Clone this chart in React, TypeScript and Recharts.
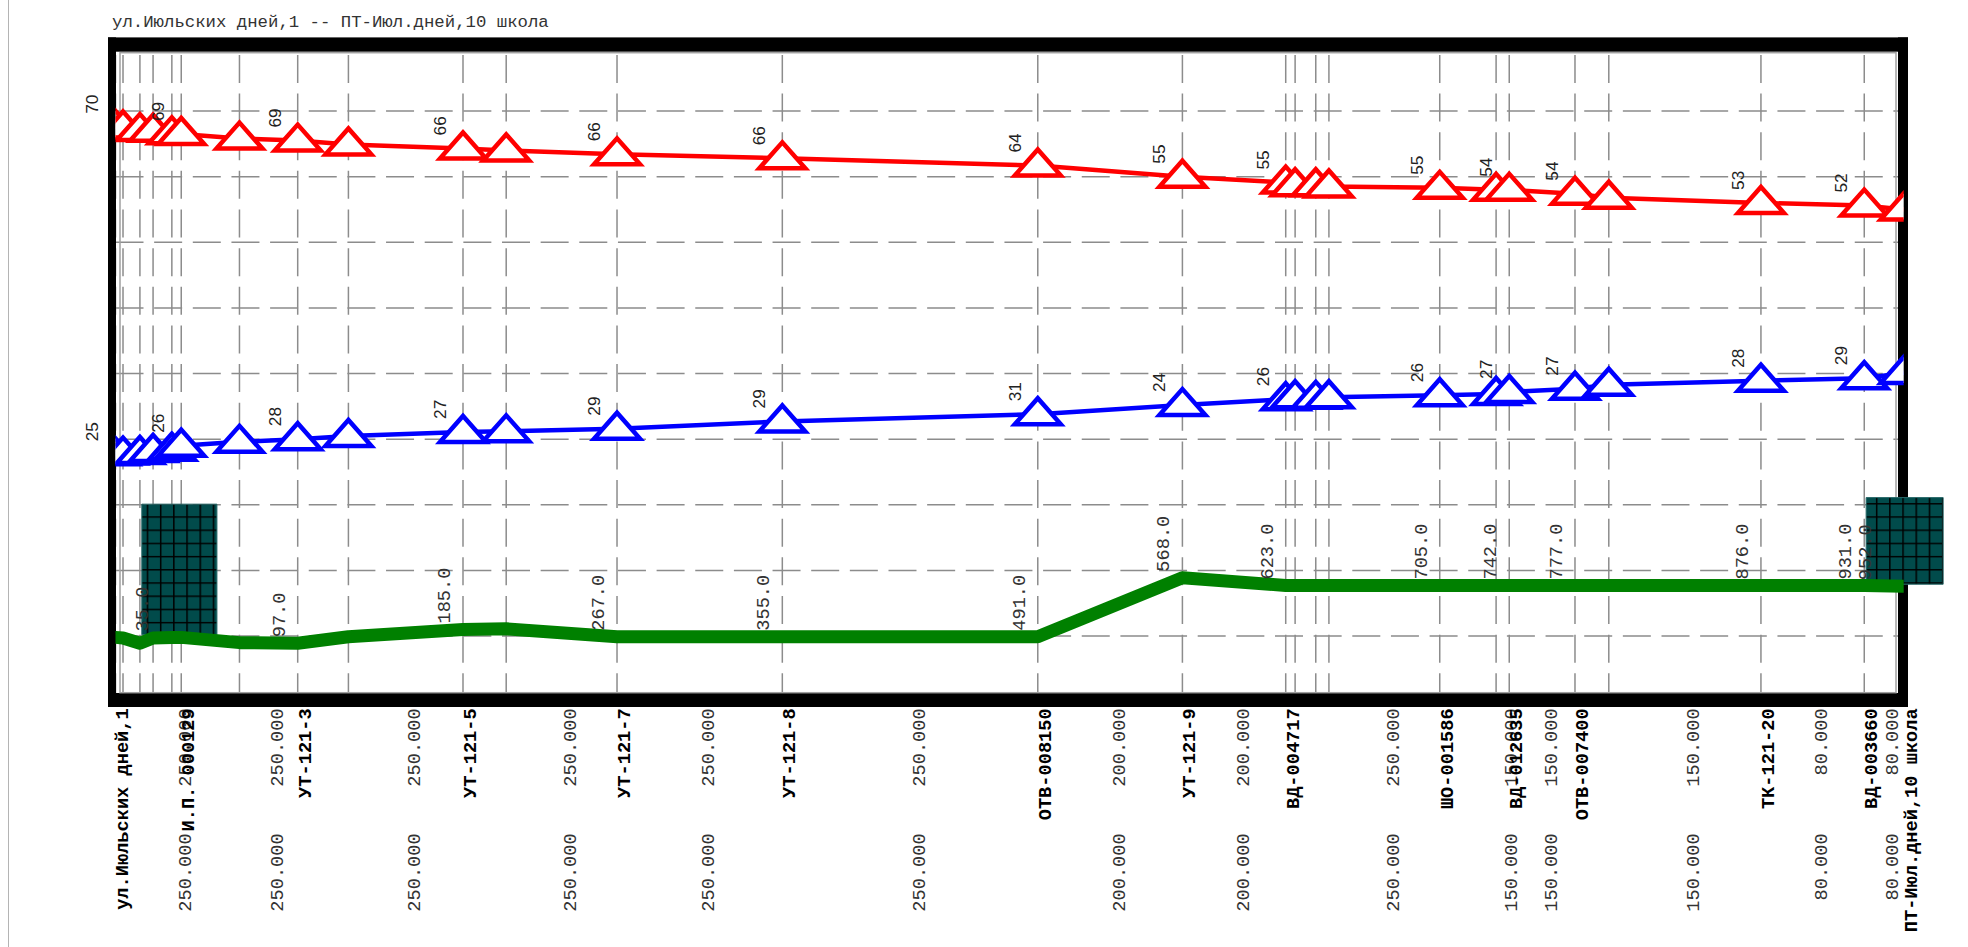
import React from 'react';
import {
  ComposedChart,
  Line,
  XAxis,
  YAxis,
  CartesianGrid,
  ReferenceArea,
  LabelList,
} from 'recharts';

// distance along the route, m (every node, named or not)
const distances = [0, 4, 13, 20, 30, 35, 66, 97, 124, 185, 208, 267, 355, 491, 568, 623, 628, 639, 646, 705, 735, 742, 777, 795, 876, 931, 952];
// head lines (supply, return, ground)
const supplyHead = [87.6, 87.5, 87.1, 87.0, 86.6, 86.5, 85.8, 85.5, 84.9, 84.3, 84.0, 83.4, 82.8, 81.7, 80.0, 79.1, 78.7, 78.7, 78.5, 78.3, 78.0, 78.0, 77.4, 76.8, 76.0, 75.6, 75.0];
const returnHead = [37.7, 37.8, 37.9, 38.2, 38.4, 39.0, 39.6, 40.0, 40.5, 41.1, 41.2, 41.6, 42.7, 43.8, 45.2, 46.1, 46.4, 46.3, 46.4, 46.7, 46.9, 47.2, 47.7, 48.3, 48.9, 49.3, 50.1];
const groundLevel = [9.8, 9.7, 8.9, 9.7, 9.8, 9.8, 9.0, 8.9, 9.9, 11.0, 11.1, 9.9, 9.9, 9.9, 18.9, 17.7, 17.7, 17.7, 17.7, 17.7, 17.7, 17.7, 17.7, 17.7, 17.7, 17.7, 17.6];

// named stations
const stationDistances = [0, 35, 97, 185, 267, 355, 491, 568, 623, 705, 742, 777, 876, 931, 952];
const stationNames = [
  'ул.Июльских дней,1', 'И.П. 000129', 'УТ-121-3', 'УТ-121-5', 'УТ-121-7', 'УТ-121-8',
  'ОТВ-008150', 'УТ-121-9', 'ВД-004717', 'ШО-001586', 'ВД-012635', 'ОТВ-007400',
  'ТК-121-20', 'ВД-003660', 'ПТ-Июл.дней,10 школа',
];
const supplyPressure = ['70', '69', '69', '66', '66', '66', '64', '55', '55', '55', '54', '54', '53', '52', ''];
const returnPressure = ['25', '26', '28', '27', '29', '29', '31', '24', '26', '26', '27', '27', '28', '29', ''];
const lengthLabels = ['', '35.0', '97.0', '185.0', '267.0', '355.0', '491.0', '568.0', '623.0', '705.0', '742.0', '777.0', '876.0', '931.0', '952.0'];
// pipe diameters of the section that ends at stations 1..14
const supplyDiameters = ['250.000', '250.000', '250.000', '250.000', '250.000', '250.000', '200.000', '200.000', '250.000', '150.000', '150.000', '150.000', '80.000', '80.000'];
const returnDiameters = ['250.000', '250.000', '250.000', '250.000', '250.000', '250.000', '200.000', '200.000', '250.000', '150.000', '150.000', '150.000', '80.000', '80.000'];

// stations drawn with a hatched box
const boxedStations = [35, 952];
const boxLeft = [14, 932];
const boxRight = [54, 973];
const boxBottom = [10.2, 17.9];
const boxTop = [30.1, 31.1];

const yTicks = [0, 10, 20, 30, 40, 50, 60, 70, 80, 90, 100];

const MONO = '"Liberation Mono", "Courier New", monospace';
const SANS = '"Liberation Sans", Arial, sans-serif';
const MONO_SIZE = 18.67;

const data = distances.map((d, i) => {
  const s = stationDistances.indexOf(d);
  return {
    d,
    r: supplyHead[i],
    b: returnHead[i],
    g: groundLevel[i],
    rl: s >= 0 ? supplyPressure[s] : '',
    bl: s >= 0 ? returnPressure[s] : '',
    gl: s >= 0 ? lengthLabels[s] : '',
  };
});

// diameter label sits in the middle of the last piece before each station
const diameterPos = stationDistances.slice(1).map((d) => {
  const i = distances.indexOf(d);
  return (distances[i - 1] + d) / 2;
});
const labelTicks = [...stationDistances, ...diameterPos].sort((a, b) => a - b);

function Triangle(color: string) {
  return (props: any) => {
    const { cx, cy, index } = props;
    if (cx == null || cy == null) return null;
    return (
      <polygon
        key={`t-${color}-${index}`}
        points={`${cx - 23},${cy + 10} ${cx},${cy - 16} ${cx + 23},${cy + 10}`}
        fill="#fff"
        stroke={color}
        strokeWidth={4.5}
      />
    );
  };
}

function VText({ x, y, anchor, font, size, weight, fill, children }: any) {
  return (
    <text
      x={x}
      y={y}
      transform={`rotate(-90, ${x}, ${y})`}
      textAnchor={anchor}
      dominantBaseline="central"
      fontFamily={font}
      fontSize={size}
      fontWeight={weight || 'normal'}
      fill={fill}
    >
      {children}
    </text>
  );
}

function PressureLabel(props: any) {
  const { x, y, value } = props;
  if (!value) return null;
  return (
    <VText x={x - 23} y={y - 13} anchor="start" font={SANS} size={17.3} fill="#222">
      {value}
    </VText>
  );
}

function LengthLabel(props: any) {
  const { x, y, value, index } = props;
  if (!value) return null;
  const dx = boxedStations.includes(distances[index]) ? -38 : -18;
  return (
    <VText x={x + dx} y={y - 6} anchor="start" font={MONO} size={MONO_SIZE} fill="#333">
      {value}
    </VText>
  );
}

function BottomTick(props: any) {
  const { x, y, payload } = props;
  const v = payload.value;
  const s = stationDistances.indexOf(v);
  if (s >= 0) {
    return (
      <VText x={x + 8} y={y + 6.6} anchor="end" font={MONO} size={MONO_SIZE} weight="bold" fill="#000">
        {stationNames[s]}
      </VText>
    );
  }
  const i = diameterPos.indexOf(v);
  if (i < 0) return null;
  return (
    <g>
      <VText x={x + 9.5} y={y + 6.6} anchor="end" font={MONO} size={MONO_SIZE} fill="#333">
        {supplyDiameters[i]}
      </VText>
      <VText x={x + 9.5} y={y + 131.6} anchor="end" font={MONO} size={MONO_SIZE} fill="#333">
        {returnDiameters[i]}
      </VText>
    </g>
  );
}

function Frame(props: any) {
  const { x, y, width, height } = props;
  const L = x;
  const T = y;
  const R = x + width;
  const B = y + height;
  return (
    <g>
      <rect x={L - 7.5} y={T - 8} width={8} height={B - T + 13.3} fill="#000" />
      <rect x={R - 5.7} y={T - 8} width={10} height={B - T + 13.3} fill="#000" />
      <rect x={L - 7.5} y={T - 8} width={R - L + 11.8} height={14.3} fill="#000" />
      <rect x={L - 7.5} y={B - 8.7} width={R - L + 11.8} height={14} fill="#000" />
      <rect
        x={L + 4.5}
        y={T + 7.3}
        width={R - L - 12.2}
        height={B - T - 16.3}
        fill="none"
        stroke="#a0a0a0"
        strokeWidth={1.5}
      />
    </g>
  );
}

export default function App() {
  return (
    <div style={{ position: 'absolute', left: 0, top: 0, width: 1968, height: 947, background: '#fff' }}>
      <div style={{ position: 'absolute', left: 8, top: 0, width: 1, height: 947, background: '#b4b4b4' }} />
      <div
        style={{
          position: 'absolute',
          left: 112,
          top: 13,
          lineHeight: '20px',
          fontFamily: MONO,
          fontSize: 17.33,
          color: '#333',
          whiteSpace: 'pre',
        }}
      >
        ул.Июльских дней,1 -- ПТ-Июл.дней,10 школа
      </div>
      <ComposedChart
        width={1968}
        height={947}
        data={data}
        margin={{ top: 45.4, left: 115.5, right: 64.3, bottom: 5.3 }}
      >
        <defs>
          <pattern id="boxGrid" patternUnits="userSpaceOnUse" x={1.5} y={1.5} width={13.2} height={13.2}>
            <rect x={0} y={0} width={13.2} height={13.2} fill="#014b4b" />
            <path d="M0 0.75 H13.2 M0.75 0 V13.2" stroke="#000" strokeWidth={1.5} />
          </pattern>
        </defs>
        <XAxis
          dataKey="d"
          type="number"
          domain={[0, 952]}
          ticks={distances}
          interval={0}
          allowDataOverflow
          height={0}
          axisLine={false}
          tickLine={false}
          tick={() => <g />}
        />
        <XAxis
          xAxisId="lab"
          dataKey="d"
          type="number"
          domain={[0, 952]}
          ticks={labelTicks}
          interval={0}
          allowDataOverflow
          height={240}
          axisLine={false}
          tickLine={false}
          tickSize={0}
          tickMargin={0}
          tick={<BottomTick />}
        />
        <YAxis type="number" domain={[0, 100]} ticks={yTicks} allowDataOverflow hide />
        <ReferenceArea x1={0} x2={952} y1={0} y2={100} ifOverflow="visible" shape={<Frame />} />
        <CartesianGrid vertical={false} stroke="#8c8c8c" strokeWidth={1.5} strokeDasharray="28 10.65" />
        <CartesianGrid
          horizontal={false}
          stroke="#8c8c8c"
          strokeWidth={1.5}
          strokeDasharray="28 10.65"
          strokeDashoffset={29.15}
        />
        {boxLeft.map((x1, i) => (
          <ReferenceArea
            key={`box-${i}`}
            x1={x1}
            x2={boxRight[i]}
            y1={boxBottom[i]}
            y2={boxTop[i]}
            ifOverflow="visible"
            fill="url(#boxGrid)"
            fillOpacity={1}
            stroke="#2a6a6a"
            strokeWidth={1}
          />
        ))}
        <Line
          dataKey="g"
          type="linear"
          stroke="#008000"
          strokeWidth={13}
          strokeLinecap="round"
          strokeLinejoin="round"
          dot={false}
          isAnimationActive={false}
        >
          <LabelList dataKey="gl" content={LengthLabel} />
        </Line>
        <Line
          dataKey="r"
          type="linear"
          stroke="#ff0000"
          strokeWidth={4.5}
          dot={Triangle('#ff0000')}
          isAnimationActive={false}
        >
          <LabelList dataKey="rl" content={PressureLabel} />
        </Line>
        <Line
          dataKey="b"
          type="linear"
          stroke="#0000ff"
          strokeWidth={4.5}
          dot={Triangle('#0000ff')}
          isAnimationActive={false}
        >
          <LabelList dataKey="bl" content={PressureLabel} />
        </Line>
      </ComposedChart>
    </div>
  );
}
